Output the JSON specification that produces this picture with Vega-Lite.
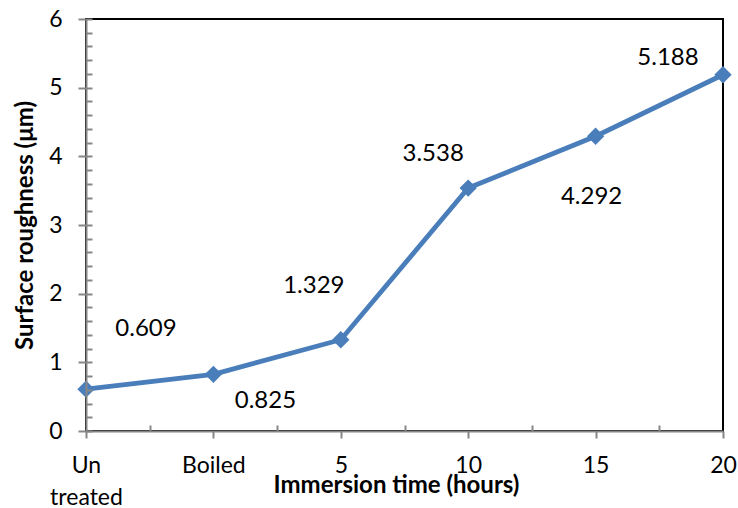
{
  "$schema": "https://vega.github.io/schema/vega-lite/v6.json",
  "width": 637,
  "height": 412,
  "autosize": {"type": "none"},
  "padding": {"left": 86, "top": 19, "right": 15, "bottom": 77},
  "config": {
    "view": {"stroke": "black", "strokeWidth": 2},
    "font": "Lato",
    "axis": {"grid": false}
  },
  "data": {
    "values": [
      {"condition": "Un treated", "order": 0, "roughness": 0.609},
      {"condition": "Boiled", "order": 1, "roughness": 0.825},
      {"condition": "5", "order": 2, "roughness": 1.329},
      {"condition": "10", "order": 3, "roughness": 3.538},
      {"condition": "15", "order": 4, "roughness": 4.292},
      {"condition": "20", "order": 5, "roughness": 5.188}
    ]
  },
  "encoding": {
    "x": {"field": "order", "type": "quantitative", "scale": {"domain": [0, 5], "nice": false, "zero": false}, "axis": null},
    "y": {"field": "roughness", "type": "quantitative", "scale": {"domain": [0, 6], "nice": false}, "axis": null}
  },
  "layer": [
    {
      "mark": {"type": "line", "color": "#4A7EBB", "strokeWidth": 4.8,
        "point": {"shape": "diamond", "size": 300, "filled": true, "color": "#4A7EBB", "opacity": 1}},
      "encoding": {
        "x": {"field": "order", "type": "quantitative", "scale": {"domain": [0, 5], "nice": false, "zero": false},
          "axis": {"orient": "bottom", "title": "Immersion time (hours)", "values": [0, 1, 2, 3, 4, 5],
            "labelExpr": "[['Un','treated'],'Boiled','5','10','15','20'][datum.value]",
            "domainColor": "#868686", "domainWidth": 2, "tickColor": "#868686", "tickWidth": 2, "tickSize": 7,
            "labelFontSize": 23, "labelColor": "black", "labelPadding": 16, "labelLineHeight": 32,
            "labelOverlap": false, "labelFlush": false, "labelBound": false, "labelBaseline": "top",
            "titleFontSize": 24, "titleFontWeight": "bold", "titleColor": "black",
            "titleX": 310, "titleY": 61, "titleBaseline": "alphabetic", "titleAlign": "center", "zindex": 1}},
        "y": {"field": "roughness", "type": "quantitative", "scale": {"domain": [0, 6], "nice": false},
          "axis": {"orient": "left", "title": "Surface roughness (μm)", "values": [0, 1, 2, 3, 4, 5, 6],
            "domainColor": "#868686", "domainWidth": 2, "tickColor": "#868686", "tickWidth": 2, "tickSize": 8,
            "labelFontSize": 23, "labelColor": "black", "labelPadding": 16,
            "labelOverlap": false, "labelFlush": false, "labelBound": false,
            "titleFontSize": 24, "titleFontWeight": "bold", "titleColor": "black",
            "titleAngle": -90, "titleX": -54, "titleY": 206, "titleBaseline": "alphabetic", "titleAlign": "center", "zindex": 1}}
      }
    },
    {
      "mark": {"type": "line", "opacity": 0},
      "encoding": {
        "x": {"field": "order", "type": "quantitative", "scale": {"domain": [0, 5], "nice": false, "zero": false},
          "axis": {"orient": "bottom", "title": null, "values": [0.5, 1.5, 2.5, 3.5, 4.5], "domain": false, "labels": false,
            "tickColor": "#868686", "tickWidth": 2, "tickSize": -6, "zindex": 1}},
        "y": {"field": "roughness", "type": "quantitative", "scale": {"domain": [0, 6], "nice": false},
          "axis": {"orient": "left", "title": null,
            "values": [0, 0.2, 0.4, 0.6, 0.8, 1, 1.2, 1.4, 1.6, 1.8, 2, 2.2, 2.4, 2.6, 2.8, 3, 3.2, 3.4, 3.6, 3.8, 4, 4.2, 4.4, 4.6, 4.8, 5, 5.2, 5.4, 5.6, 5.8, 6],
            "domain": false, "labels": false, "tickColor": "#868686", "tickWidth": 2, "tickSize": -6, "zindex": 1}}
      }
    },
    {
      "transform": [{"filter": "datum.condition == 'Un treated'"}],
      "mark": {"type": "text", "dx": 60, "dy": -60, "fontSize": 24, "color": "black", "align": "center", "baseline": "middle"},
      "encoding": {"text": {"field": "roughness", "type": "quantitative", "format": ".3f"}}
    },
    {
      "transform": [{"filter": "datum.condition == 'Boiled'"}],
      "mark": {"type": "text", "dx": 52, "dy": 27, "fontSize": 24, "color": "black", "align": "center", "baseline": "middle"},
      "encoding": {"text": {"field": "roughness", "type": "quantitative", "format": ".3f"}}
    },
    {
      "transform": [{"filter": "datum.condition == '5'"}],
      "mark": {"type": "text", "dx": -27, "dy": -54, "fontSize": 24, "color": "black", "align": "center", "baseline": "middle"},
      "encoding": {"text": {"field": "roughness", "type": "quantitative", "format": ".3f"}}
    },
    {
      "transform": [{"filter": "datum.condition == '10'"}],
      "mark": {"type": "text", "dx": -35, "dy": -34, "fontSize": 24, "color": "black", "align": "center", "baseline": "middle"},
      "encoding": {"text": {"field": "roughness", "type": "quantitative", "format": ".3f"}}
    },
    {
      "transform": [{"filter": "datum.condition == '15'"}],
      "mark": {"type": "text", "dx": -4, "dy": 61, "fontSize": 24, "color": "black", "align": "center", "baseline": "middle"},
      "encoding": {"text": {"field": "roughness", "type": "quantitative", "format": ".3f"}}
    },
    {
      "transform": [{"filter": "datum.condition == '20'"}],
      "mark": {"type": "text", "dx": -55, "dy": -17, "fontSize": 24, "color": "black", "align": "center", "baseline": "middle"},
      "encoding": {"text": {"field": "roughness", "type": "quantitative", "format": ".3f"}}
    }
  ],
  "resolve": {"axis": {"x": "independent", "y": "independent"}}
}
